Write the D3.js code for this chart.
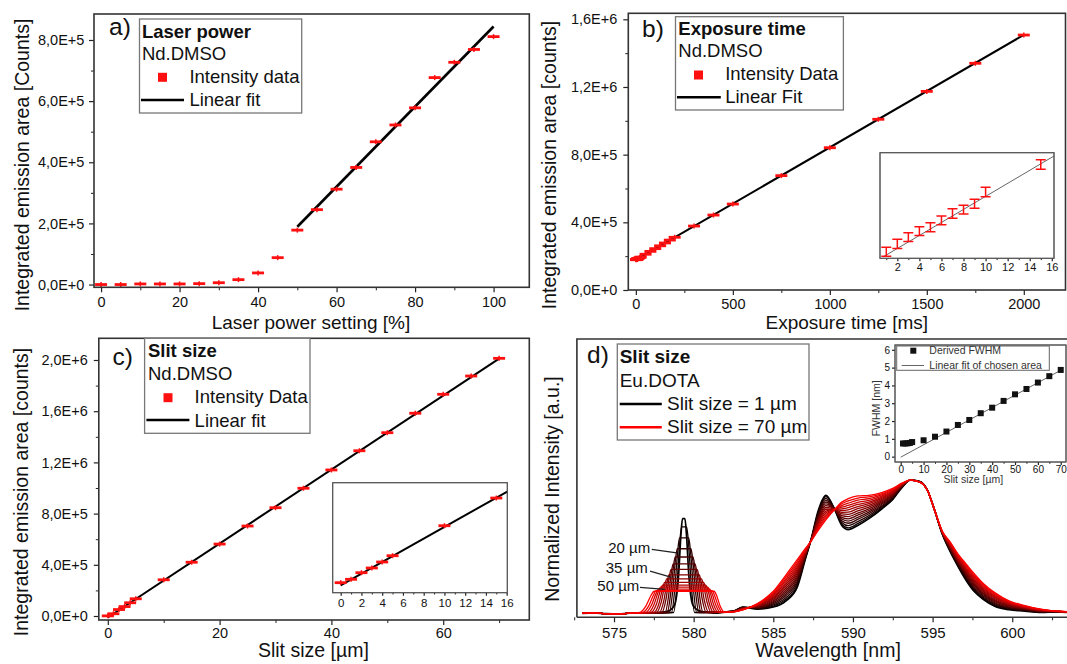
<html>

<head>
    <style>
        body { margin: 0; background: #fff; }
        text { font-family: "Liberation Sans", Arial, sans-serif; fill: #111; }
    </style>
</head>

<body>
    <svg id="chart"></svg>
</body>
<script src="https://cdn.jsdelivr.net/npm/d3@7"></script>
<script>
    let width = 1067,
        height = 664;

    // a) laser power
    let laserPower = [0, 5, 10, 15, 20, 25, 30, 35, 40, 45, 50, 55, 60, 65, 70, 75, 80, 85, 90, 95, 100]
    let laserCounts = [0, 0, 2000, 2000, 2000, 3000, 6000, 16000, 38000, 88000, 178000, 245000, 312000,
        383000, 467000, 522000, 578000, 677000, 727000, 769000, 811000]
    let laserFitX = [50, 100]
    let laserFitY = [189000, 844000]
    let aXTicks = [0, 20, 40, 60, 80, 100]
    let aXMinor = [10, 30, 50, 70, 90]
    let aYTicks = [0, 2e5, 4e5, 6e5, 8e5]
    let aYMinor = [1e5, 3e5, 5e5, 7e5]

    // b) exposure time
    let expoTime = [1, 2, 3, 4, 5, 6, 7, 8, 9, 10, 15, 20, 25, 50, 75, 100, 125, 150, 175, 200,
        300, 400, 500, 750, 1000, 1250, 1500, 1750, 2000]
    let expoCounts = [179000, 179800, 180500, 181100, 181500, 182200, 182900, 183300, 183900, 185100,
        187900, 191300, 194600, 211300, 228300, 244500, 261200, 278000, 295000, 311500,
        378000, 443000, 508000, 676000, 841000, 1009000, 1174000, 1340000, 1507000]
    let expoErr = [450, 480, 450, 450, 450, 450, 480, 450, 450, 480, 480]
    let expoFitX = [0, 2000]
    let expoFitY = [178000, 1508000]
    let expoInsetFitX = [0.7, 16.2]
    let expoInsetFitY = [178466, 188773]
    let bXTicks = [0, 500, 1000, 1500, 2000]
    let bXMinor = [250, 750, 1250, 1750]
    let bYTicks = [0, 4e5, 8e5, 1.2e6, 1.6e6]
    let bYMinor = [2e5, 6e5, 1e6, 1.4e6]
    let bInsetTicks = [2, 4, 6, 8, 10, 12, 14, 16]
    let bInsetMinor = [1, 3, 5, 7, 9, 11, 13, 15]

    // c) slit size
    let slitSize = [0, 1, 2, 3, 4, 5, 10, 15, 20, 25, 30, 35, 40, 45, 50, 55, 60, 65, 70]
    let slitCounts = [1000, 17700, 50400, 73700, 103400, 134500, 283000, 420000, 562000, 703000, 846000,
        998000, 1141000, 1291000, 1432000, 1584000, 1732000, 1875000, 2013000]
    let slitFitX = [0, 70]
    let slitFitY = [-12000, 2011000]
    let slitInsetFitX = [0, 16.06]
    let slitInsetFitY = [-12000, 452100]
    let cXTicks = [0, 20, 40, 60]
    let cXMinor = [10, 30, 50, 70]
    let cYTicks = [0, 4e5, 8e5, 1.2e6, 1.6e6, 2e6]
    let cYMinor = [2e5, 6e5, 1e6, 1.4e6, 1.8e6]
    let cInsetTicks = [0, 2, 4, 6, 8, 10, 12, 14, 16]
    let cInsetMinor = [1, 3, 5, 7, 9, 11, 13, 15]

    // d) spectra, Eu.DOTA
    let specSlits = [1, 5, 10, 15, 20, 25, 30, 35, 40, 45, 50, 55, 60, 65, 70]
    let baseLeft = [[573, .028], [573.7, .032], [574.5, .027], [575.3, .025], [576, .03], [576.3, .03]]
    let peakPts = [
        [[577, .03], [577.8, .035], [578.4, .045], [578.8, .09], [579.05, .3], [579.2, .6], [579.3, .72], [579.45, .72], [579.55, .6], [579.7, .3], [579.95, .09], [580.4, .045], [580.8, .038], [581.5, .03], [582, .04]],
        [[578.74, .035], [578.94, .22], [579.12, .535], [579.24, .66], [579.56, .66], [579.68, .535], [579.86, .22], [580.06, .035], [582, .04]],
        [[578.61, .035], [578.81, .20], [578.99, .47], [579.11, .58], [579.69, .58], [579.81, .47], [579.99, .20], [580.19, .035], [582, .04]],
        [[578.47, .035], [578.67, .175], [578.85, .41], [578.97, .50], [579.83, .50], [579.95, .41], [580.13, .175], [580.33, .035], [582, .04]],
        [[578.34, .035], [578.54, .157], [578.72, .359], [578.84, .44], [579.96, .44], [580.08, .359], [580.26, .157], [580.46, .035], [582, .04]],
        [[578.21, .035], [578.41, .142], [578.59, .319], [578.71, .39], [580.09, .39], [580.21, .319], [580.39, .142], [580.59, .035], [582, .04]],
        [[578.0, .035], [578.26, .13], [578.46, .287], [578.58, .35], [580.22, .35], [580.34, .287], [580.54, .13], [580.8, .035], [582, .04]],
        [[577.85, .035], [578.12, .118], [578.33, .255], [578.45, .31], [580.35, .31], [580.47, .255], [580.68, .118], [580.95, .035], [582, .04]],
        [[577.66, .035], [577.96, .109], [578.18, .231], [578.31, .28], [580.49, .28], [580.62, .231], [580.84, .109], [581.1, .035], [582, .04]],
        [[577.5, .035], [577.82, .101], [578.05, .211], [578.18, .255], [580.62, .255], [580.76, .211], [580.98, .101], [581.25, .035], [582, .04]],
        [[577.32, .035], [577.66, .095], [577.91, .195], [578.05, .235], [580.75, .235], [580.9, .195], [581.12, .095], [581.4, .035], [582, .04]],
        [[577.15, .035], [577.5, .09], [577.77, .183], [577.92, .22], [580.88, .22], [581.03, .183], [581.26, .09], [581.55, .035], [582.1, .04]],
        [[576.98, .035], [577.34, .086], [577.63, .171], [577.79, .205], [581.01, .205], [581.16, .171], [581.4, .086], [581.68, .035], [582.2, .04]],
        [[576.8, .035], [577.18, .083], [577.48, .163], [577.65, .195], [581.15, .195], [581.3, .163], [581.54, .083], [581.82, .035], [582.3, .04]],
        [[576.62, .035], [577.0, .082], [577.32, .159], [577.52, .19], [581.28, .19], [581.44, .159], [581.66, .082], [581.95, .035], [582.35, .04]]
    ]
    let bandNm = [582.5, 583.1, 584, 585, 585.8, 586.5, 587, 587.4, 587.8, 588.3, 588.8, 589.3, 589.7, 590.3, 591,
        591.8, 592.5, 593.1, 593.6, 594.2, 594.7, 595.1, 595.6, 596.1, 596.6, 597.1, 597.6, 598.2, 598.9, 599.8,
        600.8, 601.8, 602.8, 603.6]
    let bandVals = [
        [.045, .075, .06, .075, .12, .22, .42, .58, .77, .89, .80, .67, .64, .67, .72, .79, .86, .95, 1, .99, .92, .79, .61, .48, .37, .27, .19, .13, .08, .055, .045, .035, .04, .035],
        [.045, .074, .062, .082, .131, .232, .425, .579, .762, .88, .799, .68, .653, .683, .73, .797, .865, .952, 1, .99, .92, .79, .611, .484, .375, .277, .198, .137, .086, .059, .047, .036, .04, .035],
        [.045, .072, .065, .09, .145, .246, .43, .577, .752, .867, .797, .692, .669, .698, .742, .806, .87, .954, 1, .989, .92, .79, .613, .489, .382, .286, .207, .145, .093, .064, .05, .038, .041, .036],
        [.045, .071, .068, .098, .159, .261, .436, .576, .742, .854, .796, .705, .686, .714, .755, .814, .876, .956, 1, .989, .92, .79, .614, .494, .388, .294, .216, .153, .10, .068, .053, .04, .041, .036],
        [.044, .07, .071, .107, .172, .275, .442, .575, .732, .841, .795, .717, .702, .729, .767, .823, .882, .958, 1, .989, .92, .79, .616, .499, .395, .303, .226, .162, .108, .073, .056, .042, .041, .036],
        [.043, .068, .074, .115, .186, .29, .448, .573, .721, .827, .793, .729, .718, .745, .779, .832, .888, .96, 1, .988, .92, .79, .617, .504, .401, .312, .235, .17, .115, .078, .059, .044, .042, .037],
        [.043, .067, .077, .123, .2, .304, .454, .572, .711, .814, .792, .741, .735, .76, .791, .84, .894, .963, 1, .988, .92, .79, .618, .509, .408, .32, .245, .178, .122, .082, .062, .046, .042, .037],
        [.042, .065, .08, .132, .214, .319, .459, .57, .701, .801, .79, .754, .751, .776, .804, .849, .899, .965, 1, .988, .92, .79, .62, .515, .414, .329, .254, .187, .129, .087, .065, .047, .042, .037],
        [.042, .064, .083, .14, .227, .333, .465, .569, .691, .788, .789, .766, .767, .792, .816, .858, .905, .967, 1, .987, .92, .79, .621, .52, .421, .338, .264, .195, .137, .092, .068, .049, .043, .038],
        [.042, .062, .086, .148, .241, .348, .471, .567, .681, .775, .787, .779, .784, .807, .829, .867, .911, .969, 1, .987, .92, .79, .623, .525, .427, .347, .273, .203, .144, .097, .071, .051, .043, .038],
        [.041, .061, .088, .157, .255, .362, .477, .566, .671, .762, .786, .791, .80, .823, .841, .875, .917, .971, 1, .986, .92, .79, .624, .53, .434, .355, .282, .212, .151, .101, .073, .053, .044, .039],
        [.041, .059, .091, .165, .269, .377, .483, .564, .66, .749, .784, .803, .816, .838, .853, .884, .923, .974, 1, .986, .92, .79, .626, .535, .44, .364, .292, .22, .158, .106, .076, .055, .044, .039],
        [.041, .058, .094, .173, .282, .391, .488, .563, .65, .736, .783, .815, .832, .854, .865, .893, .928, .976, 1, .986, .92, .79, .627, .54, .447, .373, .301, .228, .166, .111, .079, .056, .044, .039],
        [.04, .056, .097, .182, .296, .406, .494, .561, .64, .723, .781, .828, .849, .87, .878, .901, .934, .978, 1, .985, .92, .79, .629, .545, .454, .381, .311, .237, .173, .115, .082, .058, .045, .04],
        [.04, .055, .10, .19, .31, .42, .50, .56, .63, .71, .78, .84, .865, .885, .89, .91, .94, .98, 1, .985, .92, .79, .63, .55, .46, .39, .32, .245, .18, .12, .085, .06, .045, .04]
    ]
    let dXTicks = [575, 580, 585, 590, 595, 600]
    let dXMinor = [572.5, 577.5, 582.5, 587.5, 592.5, 597.5, 602.5]
    // labels on the 579 nm peak: [text end nm, baseline value, leader from nm, value, to nm, value]
    let peakLabels = ["20 µm", "35 µm", "50 µm"]
    let peakLabelPos = [[577.27, .466, 577.37, .495, 578.94, .47],
        [577.12, .325, 577.26, .337, 578.62, .291],
        [576.59, .194, 576.63, .218, 578.2, .204]]

    // d inset: FWHM
    let fwhmSlit = [1, 2, 3, 4, 5, 10, 15, 20, 25, 30, 35, 40, 45, 50, 55, 60, 65, 70]
    let fwhmVals = [.74, .74, .75, .77, .82, .92, 1.12, 1.41, 1.78, 2.06, 2.44, 2.75, 3.13, 3.5, 3.8, 4.16, 4.52, 4.87]
    let fwhmFitX = [0, 70]
    let fwhmFitY = [-0.03, 4.85]
    let fInsetXTicks = [0, 10, 20, 30, 40, 50, 60, 70]
    let fInsetXMinor = [5, 15, 25, 35, 45, 55, 65]
    let fInsetYTicks = [0, 1, 2, 3, 4, 5, 6]

    const FONT = '"Liberation Sans", Arial, sans-serif'
    let svg = d3.select("#chart").attr("width", width).attr("height", height)

    function sci(v) {
        if (v === 0) return "0,0E+0"
        let e = Math.floor(Math.log10(v) + 1e-9)
        return (v / Math.pow(10, e)).toFixed(1).replace(".", ",") + "E+" + e
    }

    function frame(x0, y0, x1, y1, stroke, sw, fill) {
        svg.append("rect").attr("x", x0).attr("y", y0)
            .attr("width", x1 - x0).attr("height", y1 - y0)
            .attr("fill", fill || "none").attr("stroke", stroke).attr("stroke-width", sw)
    }

    function bottomAxis(xs, y, major, minor, fmt, fs, base, len) {
        let g = svg.append("g").attr("transform", `translate(0,${y})`)
            .call(d3.axisBottom(xs).tickValues(major).tickSize(len).tickSizeOuter(0)
                .tickPadding(base - len - 0.71 * fs).tickFormat(fmt))
        g.attr("font-family", FONT).attr("font-size", fs).attr("color", "#222")
        g.select(".domain").remove()
        g.selectAll("line").attr("stroke-width", 1.2)
        if (minor) {
            let m = svg.append("g").attr("transform", `translate(0,${y})`)
                .call(d3.axisBottom(xs).tickValues(minor).tickSize(len * 0.6).tickFormat(""))
            m.attr("color", "#222").select(".domain").remove()
        }
    }

    function leftAxis(ys, x, major, minor, fmt, fs, gap, len) {
        let g = svg.append("g").attr("transform", `translate(${x},0)`)
            .call(d3.axisLeft(ys).tickValues(major).tickSize(len).tickSizeOuter(0)
                .tickPadding(gap - len).tickFormat(fmt))
        g.attr("font-family", FONT).attr("font-size", fs).attr("color", "#222")
        g.select(".domain").remove()
        g.selectAll("line").attr("stroke-width", 1.2)
        if (minor) {
            let m = svg.append("g").attr("transform", `translate(${x},0)`)
                .call(d3.axisLeft(ys).tickValues(minor).tickSize(len * 0.6).tickFormat(""))
            m.attr("color", "#222").select(".domain").remove()
        }
    }

    function text(x, y, s, fs, opts) {
        opts = opts || {}
        let t = svg.append("text").attr("x", x).attr("y", y).text(s)
            .attr("font-size", fs)
            .attr("font-weight", opts.bold ? "bold" : null)
            .attr("text-anchor", opts.anchor || "start")
        if (opts.fill) t.style("fill", opts.fill)
        return t
    }

    function vtitle(cx, cy, s, fs) {
        svg.append("text").attr("transform", `translate(${cx},${cy}) rotate(-90)`)
            .attr("text-anchor", "middle").attr("dy", "0.35em").attr("font-size", fs).text(s)
    }

    function dashes(xs, ys, xv, yv, w) {
        let g = svg.append("g")
        g.selectAll("line.h").data(xv).join("line").attr("class", "h")
            .attr("x1", d => xs(d) - w / 2).attr("x2", d => xs(d) + w / 2)
            .attr("y1", (d, i) => ys(yv[i])).attr("y2", (d, i) => ys(yv[i]))
            .attr("stroke", "#ff1010").attr("stroke-width", 2.8)
        g.selectAll("line.v").data(xv).join("line").attr("class", "v")
            .attr("x1", d => xs(d)).attr("x2", d => xs(d))
            .attr("y1", (d, i) => ys(yv[i]) - 2.5).attr("y2", (d, i) => ys(yv[i]) + 2.5)
            .attr("stroke", "#ff1010").attr("stroke-width", 1.5)
    }

    function fitLine(xs, ys, fx, fy, color, sw) {
        svg.append("line").attr("x1", xs(fx[0])).attr("x2", xs(fx[1]))
            .attr("y1", ys(fy[0])).attr("y2", ys(fy[1]))
            .attr("stroke", color).attr("stroke-width", sw)
    }

    function legend(box, title, sub, items, fs) {
        frame(box[0], box[1], box[2], box[3], "#777", 1.3, "#fff")
        text(box[4], box[5], title, fs, { bold: true })
        text(box[4], box[5] + box[6], sub, fs)
        items.forEach(it => {
            if (it.type === "square") {
                svg.append("rect").attr("x", it.mx - 4.5).attr("y", it.my - 4.5)
                    .attr("width", 9).attr("height", 9).attr("fill", "#ff1010")
            } else {
                svg.append("line").attr("x1", it.lx0).attr("x2", it.lx1)
                    .attr("y1", it.my).attr("y2", it.my)
                    .attr("stroke", it.color).attr("stroke-width", 2.6)
            }
            text(it.tx, it.ty, it.label, fs)
        })
    }

    // ---------- panel a ----------
    function panelA() {
        let x = d3.scaleLinear().domain([-1.8, 109.1]).range([94, 529.3])
        let y = d3.scaleLinear().domain([-9000, 885000]).range([287.3, 14])
        bottomAxis(x, 287.3, aXTicks, aXMinor, d3.format("d"), 14.5, 19.8, 5)
        leftAxis(y, 94, aYTicks, aYMinor, sci, 14.5, 9.6, 5)
        fitLine(x, y, laserFitX, laserFitY, "#000", 2.6)
        dashes(x, y, laserPower, laserCounts, 12)
        frame(94, 14, 529.3, 287.3, "#333", 1.6)
        legend([139.5, 19, 301.7, 113, 141.9, 37.7, 22.5], "Laser power", "Nd.DMSO", [
            { type: "square", mx: 162.5, my: 77.3, tx: 189.4, ty: 82.7, label: "Intensity data" },
            { type: "line", lx0: 141, lx1: 184, my: 100, color: "#000", tx: 189.4, ty: 106, label: "Linear fit" }
        ], 18.5)
        text(109, 35, "a)", 24.5)
        vtitle(22.4, 165, "Integrated emission area [Counts]", 19.5)
        text(311, 329, "Laser power setting [%]", 19, { anchor: "middle" })
    }

    // ---------- panel b ----------
    function panelB() {
        let x = d3.scaleLinear().domain([-39, 2215]).range([628.3, 1065.5])
        let y = d3.scaleLinear().domain([0, 1.6355e6]).range([290, 13.3])
        bottomAxis(x, 290, bXTicks, bXMinor, d3.format("d"), 14.5, 18.6, 5)
        leftAxis(y, 628.3, bYTicks, bYMinor, sci, 14.5, 11, 5)
        fitLine(x, y, expoFitX, expoFitY, "#000", 2)
        dashes(x, y, expoTime, expoCounts, 12)
        frame(628.3, 13.3, 1065.5, 290, "#333", 1.6)
        legend([675.5, 16.7, 843.4, 110, 678.3, 35, 22.3], "Exposure time", "Nd.DMSO", [
            { type: "square", mx: 698.5, my: 75, tx: 725.2, ty: 80, label: "Intensity Data" },
            { type: "line", lx0: 677, lx1: 720.8, my: 97.3, color: "#000", tx: 725.2, ty: 103.3, label: "Linear Fit" }
        ], 18.5)
        text(642, 36.7, "b)", 24.5)
        vtitle(548.8, 165, "Integrated emission area [counts]", 19.5)
        text(846.8, 329, "Exposure time [ms]", 19, { anchor: "middle" })

        // inset
        let ix = d3.scaleLinear().domain([0.43, 16.2]).range([880, 1054])
        let iy = d3.scaleLinear().domain([178330, 189110]).range([258.3, 152.7])
        frame(880, 152.7, 1054, 258.3, "#555", 1, "#fff")
        bottomAxis(ix, 258.3, bInsetTicks, bInsetMinor, d3.format("d"), 11, 12.4, 3)
        fitLine(ix, iy, expoInsetFitX, expoInsetFitY, "#666", 1)
        let sub = expoTime.map((t, i) => [t, expoCounts[i], expoErr[i]]).filter(d => d[0] <= 15)
        let g = svg.append("g").attr("stroke", "#ff1010").attr("stroke-width", 1.5).attr("fill", "none")
        g.selectAll("path").data(sub).join("path")
            .attr("d", d => {
                let cx = ix(d[0]), y0 = iy(d[1] - d[2]), y1 = iy(d[1] + d[2])
                return `M${cx - 5},${y0}H${cx + 5}M${cx},${y0}V${y1}M${cx - 5},${y1}H${cx + 5}`
            })
        frame(880, 152.7, 1054, 258.3, "#555", 1)
    }

    // ---------- panel c ----------
    function panelC() {
        let x = d3.scaleLinear().domain([-1.61, 75.4]).range([98.8, 529.3])
        let y = d3.scaleLinear().domain([-31250, 2169500]).range([620, 338.3])
        bottomAxis(x, 620, cXTicks, cXMinor, d3.format("d"), 14.5, 18, 5)
        leftAxis(y, 98.8, cYTicks, cYMinor, sci, 14.5, 11, 5)
        fitLine(x, y, slitFitX, slitFitY, "#000", 2)
        dashes(x, y, slitSize, slitCounts, 12)
        frame(98.8, 338.3, 529.3, 620, "#333", 1.6)
        legend([144.6, 338.3, 310, 433.3, 148, 356.7, 23.3], "Slit size", "Nd.DMSO", [
            { type: "square", mx: 168, my: 397.7, tx: 194.6, ty: 402.7, label: "Intensity Data" },
            { type: "line", lx0: 146.4, lx1: 189.4, my: 420, color: "#000", tx: 194.6, ty: 426.7, label: "Linear fit" }
        ], 18.5)
        text(112.6, 365, "c)", 24.5)
        vtitle(20.7, 492, "Integrated emission area [counts]", 19.5)
        text(313.4, 657, "Slit size [µm]", 19.5, { anchor: "middle" })

        // inset
        let ix = d3.scaleLinear().domain([-0.77, 16.06]).range([332.7, 507.3])
        let iy = d3.scaleLinear().domain([-48600, 495900]).range([592.7, 482.7])
        frame(332.7, 482.7, 507.3, 592.7, "#555", 1, "#fff")
        bottomAxis(ix, 592.7, cInsetTicks, cInsetMinor, d3.format("d"), 11.5, 14, 3)
        fitLine(ix, iy, slitInsetFitX, slitInsetFitY, "#000", 2)
        let sx = slitSize.filter(s => s <= 15)
        dashes(ix, iy, sx, slitCounts.slice(0, sx.length), 12)
        frame(332.7, 482.7, 507.3, 592.7, "#555", 1)
    }

    // ---------- panel d ----------
    function panelD() {
        let x = d3.scaleLinear().domain([572.67, 603.5]).range([576.9, 1068])
        let y = d3.scaleLinear().domain([0, 2.03]).range([617.3, 339])
        svg.append("clipPath").attr("id", "clipD").append("rect")
            .attr("x", 577).attr("y", 339).attr("width", 491).attr("height", 278)
        bottomAxis(x, 617.3, dXTicks, dXMinor, d3.format("d"), 15, 20.7, 5)

        let color = d3.interpolateRgb("#000000", "#ff0000")
        let line = d3.line().x(d => x(d[0])).y(d => y(d[1])).curve(d3.curveMonotoneX)
        let curves = specSlits.map((s, i) => baseLeft.concat(peakPts[i], bandNm.map((nm, j) => [nm, bandVals[i][j]])))
        svg.append("g").attr("clip-path", "url(#clipD)")
            .selectAll("path").data(curves).join("path")
            .attr("d", line)
            .attr("fill", "none")
            .attr("stroke", (d, i) => color((specSlits[i] - 1) / 69))
            .attr("stroke-width", (d, i) => i === 0 ? 1.7 : 1.3)

        peakLabels.forEach((lab, i) => {
            let p = peakLabelPos[i]
            text(x(p[0]), y(p[1]), lab, 15, { anchor: "end" })
            svg.append("line").attr("x1", x(p[2])).attr("y1", y(p[3]))
                .attr("x2", x(p[4])).attr("y2", y(p[5])).attr("stroke", "#222").attr("stroke-width", 1.2)
        })

        svg.append("path").attr("d", "M576.9,617.3V339H1068").attr("fill", "none")
            .attr("stroke", "#333").attr("stroke-width", 1.6)
        svg.append("line").attr("x1", 576.9).attr("x2", 1068).attr("y1", 617.3).attr("y2", 617.3)
            .attr("stroke", "#333").attr("stroke-width", 1.6)

        // legend
        frame(617.3, 344, 809, 440, "#777", 1.3, "#fff")
        text(619.7, 363.3, "Slit size", 19, { bold: true })
        text(619.7, 386.7, "Eu.DOTA", 19)
        svg.append("line").attr("x1", 619.7).attr("x2", 661.8).attr("y1", 404).attr("y2", 404)
            .attr("stroke", "#000").attr("stroke-width", 2.6)
        text(667, 410, "Slit size = 1 µm", 19)
        svg.append("line").attr("x1", 619.7).attr("x2", 661.8).attr("y1", 427.3).attr("y2", 427.3)
            .attr("stroke", "#ff0000").attr("stroke-width", 2.6)
        text(667, 433.3, "Slit size = 70 µm", 19)

        text(587, 363.3, "d)", 24.5)
        vtitle(552.3, 489, "Normalized Intensity [a.u.]", 19.5)
        text(828, 657, "Wavelength [nm]", 19.5, { anchor: "middle" })

        // inset FWHM
        let ix = d3.scaleLinear().domain([-2.5, 72.3]).range([895, 1066])
        let iy = d3.scaleLinear().domain([-0.3, 6.27]).range([462, 345])
        frame(895, 345, 1066, 462, "#555", 1, "#fff")
        bottomAxis(ix, 462, fInsetXTicks, fInsetXMinor, d3.format("d"), 10, 11.3, 3)
        leftAxis(iy, 895, fInsetYTicks, null, d3.format("d"), 10, 5, 3)
        fitLine(ix, iy, fwhmFitX, fwhmFitY, "#666", 1)
        svg.append("g").selectAll("rect").data(fwhmSlit).join("rect")
            .attr("x", d => ix(d) - 3).attr("y", (d, i) => iy(fwhmVals[i]) - 3)
            .attr("width", 6).attr("height", 6).attr("fill", "#111")
        frame(896.7, 346, 1049.3, 370.3, "#666", 1, "#fff")
        svg.append("rect").attr("x", 910.3).attr("y", 347.7).attr("width", 6).attr("height", 6).attr("fill", "#111")
        text(929.3, 353.8, "Derived FWHM", 10.5, { fill: "#333" })
        svg.append("line").attr("x1", 901.7).attr("x2", 924).attr("y1", 365.5).attr("y2", 365.5)
            .attr("stroke", "#666").attr("stroke-width", 1)
        text(929.3, 368.8, "Linear fit of chosen area", 10.5, { fill: "#333" })
        frame(895, 345, 1066, 462, "#555", 1)
        text(973.3, 483.3, "Slit size [µm]", 10.5, { anchor: "middle", fill: "#333" })
        svg.append("text").attr("transform", "translate(876.7,408.3) rotate(-90)")
            .attr("text-anchor", "middle").attr("dy", "0.35em").attr("font-size", 10.5)
            .style("fill", "#333").text("FWHM [nm]")
    }

    panelA()
    panelB()
    panelC()
    panelD()
</script>

</html>
